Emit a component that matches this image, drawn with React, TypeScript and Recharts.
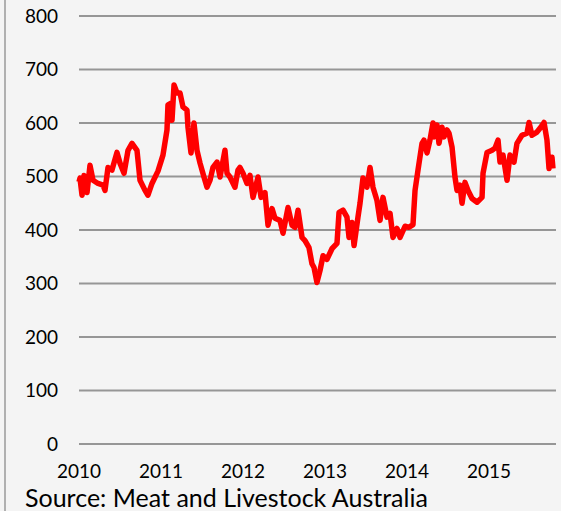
import React from "react";
import { LineChart, Line, XAxis, YAxis, CartesianGrid } from "recharts";

// weekly price readings, decimal year
const weeks = [
  2010.0, 2010.012, 2010.037, 2010.061, 2010.098, 2010.134, 2010.171, 2010.232, 2010.293, 2010.317,
  2010.354, 2010.402, 2010.463, 2010.5, 2010.549, 2010.598, 2010.646, 2010.707, 2010.744, 2010.805,
  2010.841, 2010.89, 2010.963, 2011.024, 2011.073, 2011.085, 2011.122, 2011.134, 2011.159, 2011.195,
  2011.232, 2011.268, 2011.317, 2011.329, 2011.366, 2011.402, 2011.439, 2011.476, 2011.524, 2011.561,
  2011.598, 2011.634, 2011.683, 2011.72, 2011.78, 2011.805, 2011.841, 2011.902, 2011.939, 2011.963,
  2012.0, 2012.049, 2012.085, 2012.122, 2012.183, 2012.22, 2012.268, 2012.305, 2012.354, 2012.39,
  2012.451, 2012.488, 2012.549, 2012.598, 2012.634, 2012.671, 2012.72, 2012.756, 2012.805, 2012.841,
  2012.866, 2012.902, 2012.939, 2012.976, 2013.024, 2013.085, 2013.146, 2013.171, 2013.22, 2013.268,
  2013.293, 2013.329, 2013.354, 2013.402, 2013.427, 2013.463, 2013.512, 2013.549, 2013.585, 2013.634,
  2013.671, 2013.707, 2013.756, 2013.793, 2013.829, 2013.878, 2013.915, 2013.976, 2014.024, 2014.073,
  2014.098, 2014.134, 2014.183, 2014.207, 2014.244, 2014.28, 2014.317, 2014.329, 2014.366, 2014.39,
  2014.427, 2014.451, 2014.488, 2014.512, 2014.549, 2014.585, 2014.61, 2014.646, 2014.671, 2014.707,
  2014.744, 2014.793, 2014.854, 2014.915, 2014.927, 2014.976, 2015.037, 2015.073, 2015.11, 2015.134,
  2015.171, 2015.22, 2015.256, 2015.305, 2015.341, 2015.402, 2015.463, 2015.488, 2015.524, 2015.585,
  2015.622, 2015.671, 2015.707, 2015.732, 2015.768, 2015.78,
];

const prices = [
  490, 497, 465, 502, 470, 521, 493, 487, 484, 474,
  517, 512, 545, 525, 506, 549, 562, 549, 493, 474,
  465, 487, 510, 540, 587, 634, 637, 605, 671, 656,
  656, 630, 624, 592, 544, 600, 549, 525, 499, 480,
  493, 517, 527, 499, 549, 506, 499, 480, 512, 517,
  506, 487, 502, 461, 499, 461, 470, 409, 440, 422,
  418, 394, 442, 409, 405, 437, 386, 380, 367, 337,
  330, 302, 324, 352, 345, 365, 375, 433, 437, 424,
  386, 414, 371, 424, 450, 497, 480, 517, 480, 455,
  418, 461, 424, 431, 386, 403, 386, 407, 405, 410,
  474, 512, 562, 568, 544, 568, 600, 574, 596, 562,
  592, 574, 587, 581, 555, 499, 474, 484, 450, 489,
  474, 459, 452, 461, 506, 545, 549, 553, 568, 527,
  540, 493, 540, 527, 562, 577, 581, 601, 577, 583,
  590, 601, 568, 515, 536, 515,
];

const yearTicks = [2010, 2011, 2012, 2013, 2014, 2015];
const priceTicks = [0, 100, 200, 300, 400, 500, 600, 700, 800];

const data = weeks.map((w, i) => ({ week: w, price: prices[i] }));

const FONT = "Lato, 'Open Sans', sans-serif";

export default function App() {
  return (
    <div style={{ position: "absolute", left: 0, top: 0, width: 561, height: 511, background: "#f4f4f4", overflow: "hidden", fontFamily: FONT }}>
      <div style={{ position: "absolute", left: 4, top: 0, width: 2, height: 511, background: "#b0b0b0" }} />
      <LineChart width={561} height={511} data={data} margin={{ top: 16, right: 5, bottom: 27, left: 0 }}>
        <CartesianGrid vertical={false} stroke="#969696" strokeWidth={2} />
        <XAxis
          dataKey="week"
          type="number"
          domain={[2010, 2015.817]}
          ticks={yearTicks}
          axisLine={false}
          tickLine={false}
          tickSize={0}
          tickMargin={21}
          height={40}
          tick={{ fill: "#000", fontSize: 19, fontFamily: FONT }}
        />
        <YAxis
          domain={[0, 800]}
          ticks={priceTicks}
          axisLine={false}
          tickLine={false}
          tickSize={0}
          tickMargin={21}
          width={79}
          tick={{ fill: "#000", fontSize: 19, fontFamily: FONT }}
        />
        <Line
          type="linear"
          dataKey="price"
          stroke="#ff0000"
          strokeWidth={5.5}
          strokeLinejoin="round"
          dot={false}
          isAnimationActive={false}
        />
      </LineChart>
      <div style={{ position: "absolute", left: 25, top: 487, fontSize: 25, lineHeight: "20px", color: "#000", whiteSpace: "nowrap" }}>
        Source: Meat and Livestock Australia
      </div>
    </div>
  );
}
